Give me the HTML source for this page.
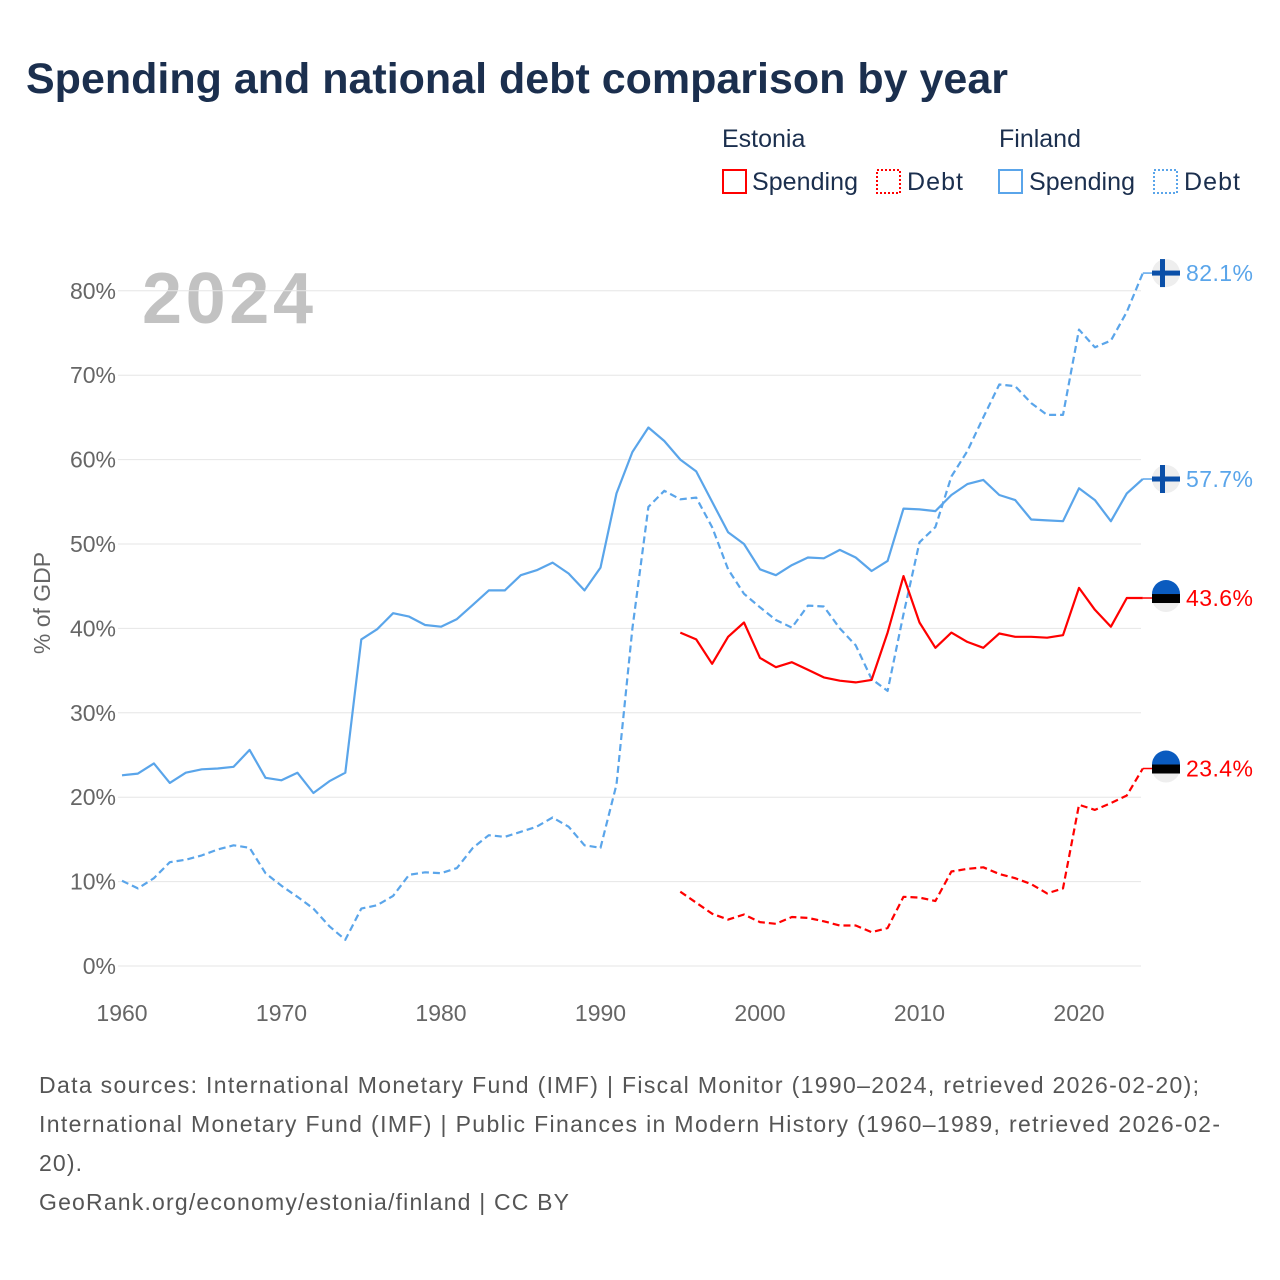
<!DOCTYPE html>
<html><head><meta charset="utf-8"><style>
body{margin:0;background:#fff;font-family:"Liberation Sans",sans-serif;}
#wrap{position:relative;width:1280px;height:1280px;overflow:hidden;}
</style></head><body>
<div id="wrap">
<svg id="chart" width="1280" height="1280" xmlns="http://www.w3.org/2000/svg">
<text x="26" y="93" font-size="43" font-weight="bold" fill="#1b2f4e">Spending and national debt comparison by year</text>
<g font-size="25" fill="#1b2f4e">
<text x="722" y="147">Estonia</text>
<text x="999" y="147">Finland</text>
<g><rect x="723" y="170" width="23" height="23" fill="none" stroke="#ff0000" stroke-width="2"/><text x="752" y="190" textLength="106">Spending</text></g>
<g><rect x="877" y="170" width="23" height="23" fill="none" stroke="#ff0000" stroke-width="2" stroke-dasharray="2,2"/><text x="907" y="190" textLength="56">Debt</text></g>
<g><rect x="999" y="170" width="23" height="23" fill="none" stroke="#5aa5ea" stroke-width="2"/><text x="1029" y="190" textLength="106">Spending</text></g>
<g><rect x="1154" y="170" width="23" height="23" fill="none" stroke="#5aa5ea" stroke-width="2" stroke-dasharray="2,2"/><text x="1184" y="190" textLength="56">Debt</text></g>
</g>
<text x="142" y="323" font-size="72" font-weight="bold" fill="#c2c2c2" textLength="171">2024</text>
<text transform="translate(50,603) rotate(-90)" text-anchor="middle" font-size="23" fill="#666">% of GDP</text>
<g id="grid"></g><g id="series"></g><g id="ends"></g>
<g font-size="23" fill="#555">
<text x="39" y="1093" textLength="1160">Data sources: International Monetary Fund (IMF) | Fiscal Monitor (1990–2024, retrieved 2026-02-20);</text>
<text x="39" y="1132" textLength="1181">International Monetary Fund (IMF) | Public Finances in Modern History (1960–1989, retrieved 2026-02-</text>
<text x="39" y="1171" textLength="43">20).</text>
<text x="39" y="1210" textLength="530">GeoRank.org/economy/estonia/finland | CC BY</text>
</g>
</svg></div>
<script>
const yTicks=[0,10,20,30,40,50,60,70,80];
const xTicks=[1960,1970,1980,1990,2000,2010,2020];
const finYears0=1960, estYears0=1995;
const finSpending=[22.6,22.8,24.0,21.7,22.9,23.3,23.4,23.6,25.6,22.3,22.0,22.9,20.5,21.9,22.9,38.7,39.9,41.8,41.4,40.4,40.2,41.1,42.8,44.5,44.5,46.3,46.9,47.8,46.5,44.5,47.2,56.0,60.9,63.8,62.2,60.0,58.6,55.0,51.4,50.0,47.0,46.3,47.5,48.4,48.3,49.3,48.4,46.8,48.0,54.2,54.1,53.9,55.8,57.1,57.6,55.8,55.2,52.9,52.8,52.7,56.6,55.2,52.7,56.0,57.7];
const finDebt=[10.1,9.2,10.4,12.3,12.6,13.1,13.8,14.3,14.0,11.0,9.5,8.2,6.8,4.7,3.1,6.8,7.2,8.3,10.8,11.1,11.0,11.6,14.0,15.5,15.3,15.9,16.5,17.6,16.5,14.3,14.0,21.5,40.0,54.4,56.3,55.3,55.5,52.0,47.0,44.1,42.5,41.0,40.1,42.7,42.6,40.0,38.0,34.0,32.6,41.7,50.2,52.0,58.0,61.0,65.0,68.9,68.7,66.7,65.3,65.3,75.4,73.3,74.1,77.5,82.1];
const estSpending=[39.5,38.7,35.8,39.0,40.7,36.5,35.4,36.0,35.1,34.2,33.8,33.6,33.9,39.5,46.2,40.7,37.7,39.5,38.4,37.7,39.4,39.0,39.0,38.9,39.2,44.8,42.2,40.2,43.6,43.6];
const estDebt=[8.8,7.5,6.2,5.5,6.1,5.2,5.0,5.8,5.7,5.3,4.8,4.8,4.0,4.5,8.2,8.1,7.7,11.2,11.5,11.7,10.9,10.4,9.7,8.6,9.2,19.1,18.5,19.3,20.2,23.4];
const NS="http://www.w3.org/2000/svg";
const X=y=>122+(y-1960)*15.95;
const Y=v=>966-v*8.44;
function mk(t,a,p){const e=document.createElementNS(NS,t);for(const k in a)e.setAttribute(k,a[k]);p.appendChild(e);return e;}
const grid=document.getElementById('grid');
yTicks.forEach(v=>{
 const l=mk('line',{x1:118,x2:1141,y1:Y(v),y2:Y(v),stroke:'#e6e6e6','stroke-width':1},grid);
 
 
 const t=mk('text',{x:116,y:Y(v)+8,'text-anchor':'end','font-size':23,fill:'#666'},grid);
 t.textContent=v+'%';
 
 
});
xTicks.forEach(v=>{
 const t=mk('text',{x:X(v),y:1021,'text-anchor':'middle','font-size':23,fill:'#666'},grid);
 t.textContent=v;
 
 
});
const ser=document.getElementById('series');
function line(arr,y0,color,dash,name){
 const pts=arr.map((v,i)=>X(y0+i).toFixed(1)+','+Y(v).toFixed(1)).join(' ');
 const p=mk('polyline',{points:pts,fill:'none',stroke:color,'stroke-width':2.2,'stroke-linejoin':'round'},ser);
 if(dash)p.setAttribute('stroke-dasharray',dash);
 
 
}
const BLUE='#5aa5ea',RED='#ff0000';
line(finSpending,finYears0,BLUE,null,'line-finland-spending');
line(finDebt,finYears0,BLUE,'7,4','line-finland-debt');
line(estSpending,estYears0,RED,null,'line-estonia-spending');
line(estDebt,estYears0,RED,'7,4','line-estonia-debt');
const ends=document.getElementById('ends');
function endMark(v,color,flag,name){
 const y=Y(v);
 mk('line',{x1:X(2024),x2:1152,y1:y,y2:y,stroke:color,'stroke-width':1.5},ends);
 const g=mk('g',{},ends);
 
 
 mk('circle',{cx:1166,cy:y,r:14,fill:'#eeeeee'},g);
 if(flag==='fi'){
  mk('rect',{x:1152,y:y-2.5,width:28,height:5,fill:'#0a4fa8'},g);
  mk('rect',{x:1160,y:y-14,width:5,height:28,fill:'#0a4fa8'},g);
 }else{
  mk('path',{d:`M1152,${y-4} A14,14 0 0 1 1180,${y-4} Z`,fill:'#0a5bbf'},g);
  mk('rect',{x:1152,y:y-4,width:28,height:9,fill:'#000'},g);
 }
 const t=mk('text',{x:1186,y:y+8,'font-size':23,fill:color,textLength:67},ends);
 t.textContent=v.toFixed(1)+'%';
 
 
}
endMark(finDebt[finDebt.length-1],BLUE,'fi','finland-debt-end');
endMark(finSpending[finSpending.length-1],BLUE,'fi','finland-spending-end');
endMark(estSpending[estSpending.length-1],RED,'ee','estonia-spending-end');
endMark(estDebt[estDebt.length-1],RED,'ee','estonia-debt-end');
</script>
</body></html>
